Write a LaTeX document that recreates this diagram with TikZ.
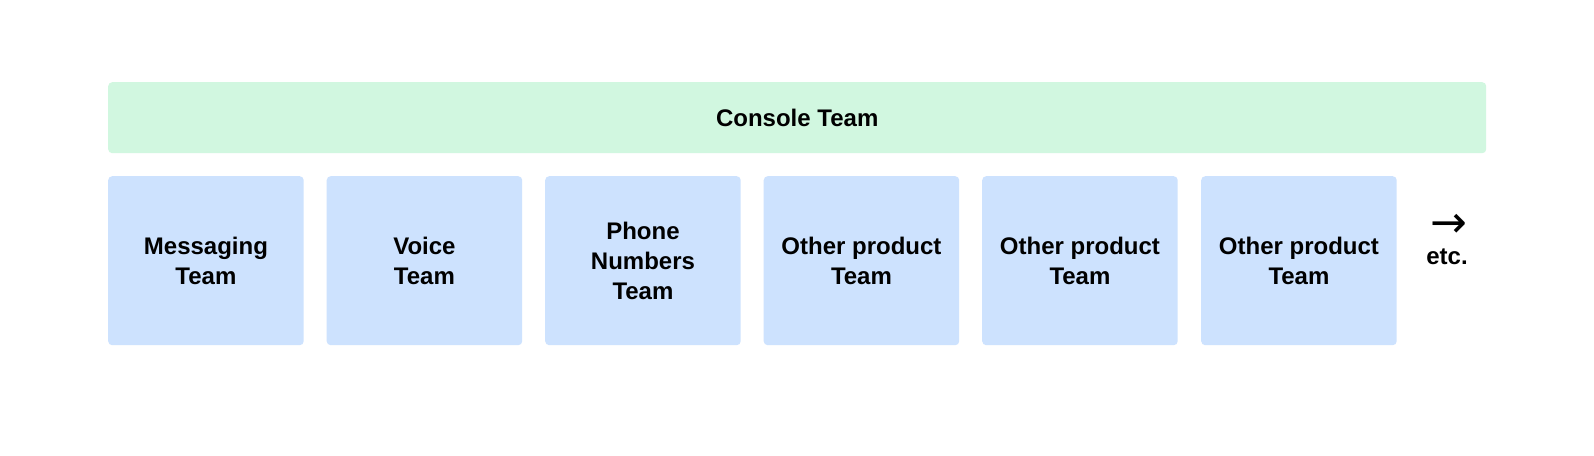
\documentclass[tikz,border=0pt]{standalone}
\usepackage{fontspec}
\setmainfont{Liberation Sans}
\newfontfamily\arrowfont{DejaVu Sans}
\definecolor{consolegreen}{RGB}{209,247,224}
\definecolor{teamblue}{RGB}{205,226,254}
\begin{document}
\begin{tikzpicture}[x=1pt,y=-1pt,
  teambox/.style={fill=teamblue, rounded corners=4pt, minimum width=195.5pt, minimum height=169pt, inner sep=0pt, anchor=north west, align=center, font=\fontsize{24}{30}\selectfont\bfseries},
  consolebox/.style={fill=consolegreen, rounded corners=4pt, minimum width=1378pt, minimum height=71pt, inner sep=0pt, anchor=north west, font=\fontsize{24}{30}\selectfont\bfseries},
  plain/.style={align=center, inner sep=0pt, font=\fontsize{24}{30}\selectfont\bfseries}]
\fill[white] (0,0) rectangle (1594,455);
\useasboundingbox (0,0) rectangle (1594,455);
\node[consolebox] (console) at (108,82) {Console Team};
\node[teambox] (t1) at (108,176) {Messaging\\Team};
\node[teambox] (t2) at (326.5,176) {Voice\\Team};
\node[teambox] (t3) at (545,176) {Phone\\Numbers\\Team};
\node[teambox] (t4) at (763.5,176) {Other product\\Team};
\node[teambox] (t5) at (982,176) {Other product\\Team};
\node[teambox] (t6) at (1201,176) {Other product\\Team};
\node[plain, font=\arrowfont\fontsize{44}{44}\selectfont, anchor=center] (arrow) at (1448.5,226) {→};
\node[plain] (etc) at (1447,257) {etc.};
\end{tikzpicture}
\end{document}
